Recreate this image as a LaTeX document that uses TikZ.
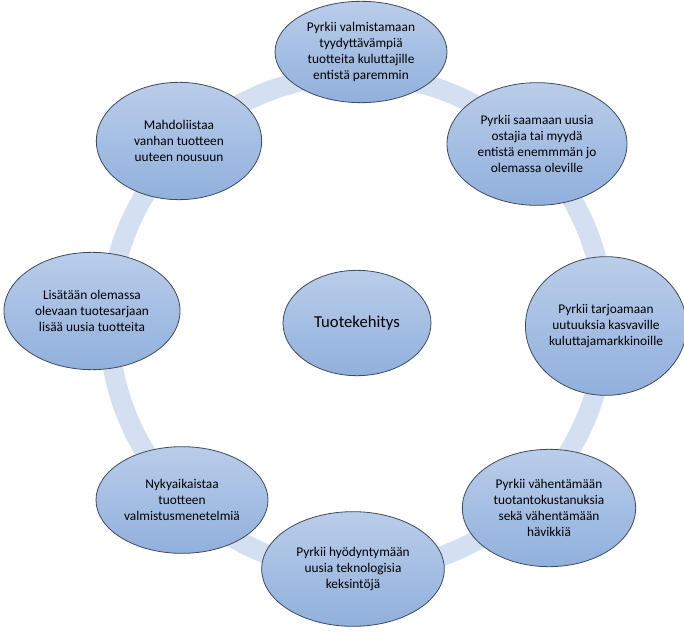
\documentclass[tikz,border=0pt]{standalone}
\usepackage{fontspec}
\setmainfont{Carlito}
\usetikzlibrary{shapes.geometric}
\definecolor{ringblue}{HTML}{D4E0F1}
\definecolor{balltop}{HTML}{BACDEA}
\definecolor{ballbot}{HTML}{90B0DC}
\definecolor{ballline}{HTML}{3F4A5C}

\begin{document}
\begin{tikzpicture}[x=0.75pt, y=-0.75pt,
		ring/.style={draw=ringblue, line width=15pt},
		ball/.style={ellipse, draw=ballline, line width=0.6pt, top color=balltop, bottom color=ballbot,
			inner sep=0pt, align=center, font=\fontsize{10}{12}\selectfont}]
			\useasboundingbox (0,0) rectangle (684,634);
			
			% Ring round the centre
			\coordinate (mid) at (357,323);
			\draw[ring] (mid) circle[radius=186pt];
			\node[ball, minimum width=111pt, minimum height=79pt, font=\fontsize{12.5}{15}\selectfont] (hub) at (mid) {Tuotekehitys};
			
			% Outer ellipses, clockwise from top
			\node[ball, minimum width=129pt, minimum height=76pt] (better) at (361,52) {Pyrkii valmistamaan\\tyydyttävämpiä\\tuotteita kuluttajille\\entistä paremmin};
			\node[ball, minimum width=135pt, minimum height=92pt] (buyers) at (537,144) {Pyrkii saamaan uusia\\ostajia tai myydä\\entistä enemmmän jo\\olemassa oleville};
			\node[ball, minimum width=117pt, minimum height=104pt] (markets) at (606,326) {Pyrkii tarjoamaan\\uutuuksia kasvaville\\kuluttajamarkkinoille};
			\node[ball, minimum width=130pt, minimum height=88pt] (costs) at (549,508) {Pyrkii vähentämään\\tuotantokustanuksia\\sekä vähentämään\\hävikkiä};
			\node[ball, minimum width=137pt, minimum height=86pt] (tech) at (353,569) {Pyrkii hyödyntymään\\uusia teknologisia\\keksintöjä};
			\node[ball, minimum width=129pt, minimum height=80pt] (methods) at (182,500) {Nykyaikaistaa\\tuotteen\\valmistusmenetelmiä};
			\node[ball, minimum width=132pt, minimum height=88pt] (series) at (92,311) {Lisätään olemassa\\olevaan tuotesarjaan\\lisää uusia tuotteita};
			\node[ball, minimum width=124pt, minimum height=88pt] (revive) at (179,141) {Mahdoliistaa\\vanhan tuotteen\\uuteen nousuun};
		\end{tikzpicture}
\end{document}
